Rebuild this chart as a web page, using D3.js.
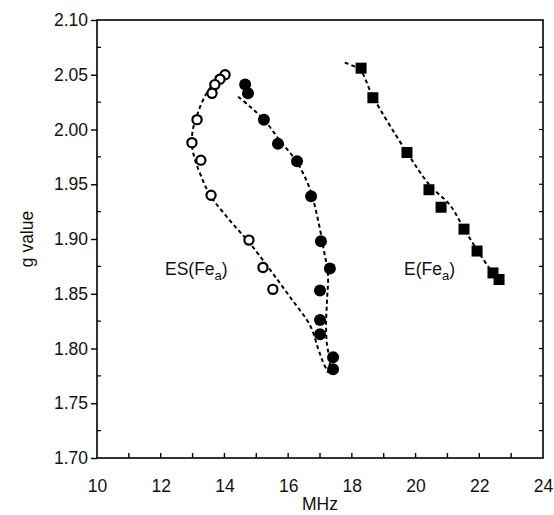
<!DOCTYPE html>
<html><head><meta charset="utf-8">
<script src="https://cdn.jsdelivr.net/npm/d3@7"></script>
<style>body{margin:0;background:#fff}svg{display:block}text{font-family:"Liberation Sans",Arial,sans-serif;fill:#111}</style>
</head><body><svg id="c" width="554" height="515"></svg>
<script>
// ES(Fea) open circles
const esOpenMHz = [14.02,13.86,13.70,13.61,13.14,12.98,13.26,13.58,14.77,15.21,15.52];
const esOpenG   = [2.050,2.046,2.041,2.033,2.009,1.988,1.972,1.940,1.899,1.874,1.854];
// filled circles
const esFillMHz = [14.65,14.74,15.24,15.68,16.28,16.72,17.03,17.31,17.00,17.00,17.00,17.41,17.41];
const esFillG   = [2.041,2.033,2.009,1.987,1.971,1.939,1.898,1.873,1.853,1.826,1.813,1.792,1.781];
// E(Fea) squares
const eMHz = [18.29,18.66,19.73,20.42,20.80,21.52,21.93,22.43,22.62];
const eG   = [2.056,2.029,1.979,1.945,1.929,1.909,1.889,1.869,1.863];
// dashed guide curves
const curveOpenMHz = [14.05,13.80,13.55,13.33,13.14,13.01,12.98,13.08,13.26,13.55,14.17,14.80,15.43,16.06,16.69,16.94,17.09,17.25];
const curveOpenG   = [2.052,2.047,2.038,2.027,2.013,2.000,1.986,1.972,1.958,1.940,1.917,1.896,1.872,1.847,1.821,1.800,1.788,1.778];
const curveFillMHz = [14.43,14.80,15.24,15.74,16.28,16.69,16.94,17.12,17.25,17.22,17.19,17.22,17.31,17.28];
const curveFillG   = [2.030,2.021,2.009,1.990,1.970,1.945,1.917,1.890,1.867,1.844,1.821,1.803,1.789,1.778];
const curveEMHz = [17.78,18.26,18.66,19.73,20.45,21.08,21.49,21.93,22.56];
const curveEG   = [2.061,2.054,2.030,1.979,1.949,1.931,1.911,1.890,1.863];
const xTicks = [10,12,14,16,18,20,22,24];
const yTicks = [1.70,1.75,1.80,1.85,1.90,1.95,2.00,2.05,2.10];

const svg = d3.select("#c");
const L=97,R=543,T=20,B=458;
const x = d3.scaleLinear().domain([10,24]).range([L,R]);
const y = d3.scaleLinear().domain([1.70,2.10]).range([B,T]);
const zip=(a,b)=>a.map((v,i)=>[v,b[i]]);

// frame
svg.append("rect").attr("x",L).attr("y",T).attr("width",R-L).attr("height",B-T)
  .attr("fill","none").attr("stroke","#000").attr("stroke-width",1.6);

// y axis
const ya = svg.append("g").attr("transform",`translate(${L},0)`)
  .call(d3.axisLeft(y).tickValues(yTicks).tickFormat(d3.format(".2f")).tickSize(6).tickPadding(3));
ya.select(".domain").remove();
ya.selectAll("line").attr("stroke","#000").attr("stroke-width",1.4);
ya.selectAll("text").style("font-size","17.5px").attr("fill","#111");
const yMinor = d3.range(1.725,2.1,0.05);
svg.append("g").selectAll("line").data(yMinor).join("line")
  .attr("x1",L).attr("x2",L+4).attr("y1",d=>y(d)).attr("y2",d=>y(d)).attr("stroke","#000").attr("stroke-width",1.2);
svg.append("g").selectAll("line").data(yMinor.concat(yTicks.slice(1,-1))).join("line")
  .attr("x1",R).attr("x2",R-4).attr("y1",d=>y(d)).attr("y2",d=>y(d)).attr("stroke","#000").attr("stroke-width",1.2);

// x axis
const xa = svg.append("g").attr("transform",`translate(0,${B})`)
  .call(d3.axisBottom(x).tickValues(xTicks).tickFormat(d3.format("d")).tickSize(0).tickPadding(22));
xa.select(".domain").remove();
xa.selectAll("text").style("font-size","17.5px").attr("fill","#111");
svg.append("g").selectAll("line").data(d3.range(11,24,1)).join("line")
  .attr("x1",d=>x(d)).attr("x2",d=>x(d)).attr("y1",B).attr("y2",B-5).attr("stroke","#000").attr("stroke-width",1.4);

// axis titles
svg.append("text").attr("x",x(17)).attr("y",510).attr("text-anchor","middle").style("font-size","17.5px").text("MHz");
svg.append("text").attr("transform",`translate(33,${y(1.9)}) rotate(-90)`).attr("text-anchor","middle").style("font-size","17.5px").text("g value");

// dashed curves
const line = d3.line().x(d=>x(d[0])).y(d=>y(d[1])).curve(d3.curveCatmullRom);
[[curveOpenMHz,curveOpenG],[curveFillMHz,curveFillG],[curveEMHz,curveEG]].forEach(([a,b])=>{
  svg.append("path").attr("d",line(zip(a,b))).attr("fill","none").attr("stroke","#000")
    .attr("stroke-width",2).attr("stroke-dasharray","4,3");
});

// markers
svg.append("g").selectAll("circle").data(zip(esOpenMHz,esOpenG)).join("circle")
  .attr("cx",d=>x(d[0])).attr("cy",d=>y(d[1])).attr("r",4.6).attr("fill","#fff").attr("stroke","#000").attr("stroke-width",2.2);
svg.append("g").selectAll("circle").data(zip(esFillMHz,esFillG)).join("circle")
  .attr("cx",d=>x(d[0])).attr("cy",d=>y(d[1])).attr("r",6).attr("fill","#000");
svg.append("g").selectAll("rect").data(zip(eMHz,eG)).join("rect")
  .attr("x",d=>x(d[0])-5.5).attr("y",d=>y(d[1])-5.5).attr("width",11).attr("height",11).attr("fill","#000");

// labels
function lab(tx,ty,main){
  const t = svg.append("text").attr("x",tx).attr("y",ty).style("font-size","17.5px");
  t.append("tspan").text(main+"(Fe");
  t.append("tspan").attr("dy",5).style("font-size","13px").text("a");
  t.append("tspan").attr("dy",-5).text(")");
}
lab(165,275,"ES");
lab(404,275,"E");
</script></body></html>
